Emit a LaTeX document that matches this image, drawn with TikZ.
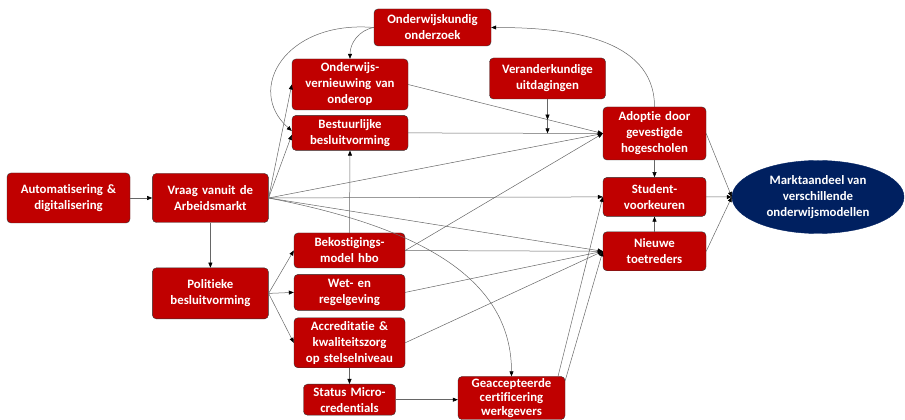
\documentclass[tikz,border=0pt]{standalone}
\usepackage{fontspec}
\setmainfont{Carlito}[BoldFont={Carlito Bold},Ligatures=NoCommon]
\usepackage{xcolor}
\usepackage{tikz}
\usetikzlibrary{positioning,arrows.meta,shapes.geometric,calc}
\definecolor{boxred}{HTML}{C00000}
\definecolor{marktblue}{HTML}{002060}

\begin{document}
\begin{tikzpicture}[
  x=1pt, y=1pt,
  box/.style={draw=black!80, rounded corners=4pt, align=center, text=white,
    font=\bfseries\fontsize{12.8}{16}\selectfont, fill=boxred,
    inner xsep=0pt, inner ysep=2pt, minimum width=#1, text width=#1},
  arr/.style={-{Triangle[length=5pt,width=4pt,color=black]}, draw=black!60, line width=0.5pt}]
\useasboundingbox (0,0) rectangle (905,420);
\node[box=123pt, minimum height=50pt] (auto) at (68.5,222) {Automatisering \&\\digitalisering};
\node[box=116pt, minimum height=49pt, right=22pt of auto] (vraag) {Vraag vanuit de\\Arbeidsmarkt};
\node[box=116pt, minimum height=51pt, below=45pt of vraag] (pol) {Politieke\\besluitvorming};
\node[box=116pt, minimum height=51pt] (vern) at (350,335.5) {Onderwijs-\\vernieuwing van\\onderop};
\node[box=116pt, minimum height=35pt, below=5pt of vern] (best) {Bestuurlijke\\besluitvorming};
\node[box=117pt, minimum height=37pt] (onderz) at (432.5,392.5) {Onderwijskundig\\onderzoek};
\node[box=116pt, minimum height=41pt] (verand) at (547.5,341.5) {Veranderkundige\\uitdagingen};
\node[box=103pt, minimum height=53pt] (adop) at (654.5,286.5) {Adoptie door\\gevestigde\\hogescholen};
\node[box=103pt, minimum height=39pt, below=17pt of adop] (stud) {Student-\\voorkeuren};
\node[box=103pt, minimum height=39pt, below=15pt of stud] (nieuw) {Nieuwe\\toetreders};
\node[box=111pt, minimum height=35pt] (bekost) at (349.5,169.5) {Bekostigings-\\model hbo};
\node[box=111pt, minimum height=36pt, below=6pt of bekost] (wet) {Wet- en\\regelgeving};
\node[box=111pt, minimum height=50pt, below=7pt of wet] (accr) {Accreditatie \&\\kwaliteitszorg\\op stelselniveau};
\node[box=92pt, minimum height=31pt, below=16pt of accr] (micro) {Status Micro-\\credentials};
\node[box=107pt, minimum height=43pt, font=\bfseries\fontsize{12.8}{14}\selectfont,
  inner ysep=1pt] (geacc) at (511.5,22) {Geaccepteerde\\certificering\\werkgevers};
\node[ellipse, draw=marktblue, fill=marktblue, text=white, align=center,
  font=\bfseries\fontsize{12.8}{16}\selectfont, inner sep=0pt,
  minimum width=172pt, minimum height=73pt] (markt) at (818,223) {Marktaandeel van\\verschillende\\onderwijsmodellen};
\draw[arr] (auto) -- (vraag);
\draw[arr] (vraag) -- (pol);
\draw[arr] (vraag.east) -- (vern.west);
\draw[arr] (vraag.east) -- ([yshift=-2pt]best.west);
\draw[arr] (vraag.east) -- (adop.west);
\draw[arr] (vraag.east) -- (stud.west);
\draw[arr] (vraag.east) -- (nieuw.west);
\draw[arr] (vraag.east) .. controls +(-11:150) and +(90:100) .. (geacc.north);
\draw[arr] (pol.east) -- (bekost.west);
\draw[arr] (pol.east) -- (wet.west);
\draw[arr] (pol.east) -- (accr.west);
\draw[arr] (onderz.west) to[out=190,in=90] (vern.north);
\draw[arr] (onderz.west) .. controls (285,400) and (245,330) .. ([yshift=2pt]best.west);
\draw[arr] (adop.north) to[out=90,in=0] (onderz.east);
\draw[arr] (vern.east) -- coordinate[pos=0.718] (mod1) (adop.west);
\draw[arr] (best.east) -- coordinate[pos=0.718] (mod2) (adop.west);
\draw[arr] (verand.south) -- (verand.south |- mod1);
\draw[arr] (verand.south |- mod1) -- (verand.south |- mod2);
\draw[arr] (bekost.north) -- (best.south);
\draw[arr] (bekost.east) -- (adop.west);
\draw[arr] (bekost.east) -- (nieuw.west);
\draw[arr] (wet.east) -- (nieuw.west);
\draw[arr] (accr.east) -- (nieuw.west);
\draw[arr] (accr.south) -- (micro.north);
\draw[arr] (micro.east) -- (micro.east -| geacc.west);
\draw[arr] (geacc.25) -- (stud.west);
\draw[arr] (geacc.18) -- (nieuw.west);
\draw[arr] (adop) -- (stud);
\draw[arr] (nieuw) -- (stud);
\draw[arr] (adop.east) -- (markt.west);
\draw[arr] (stud.east) -- (markt.west);
\draw[arr] (nieuw.east) -- (markt.west);
\end{tikzpicture}
\end{document}
